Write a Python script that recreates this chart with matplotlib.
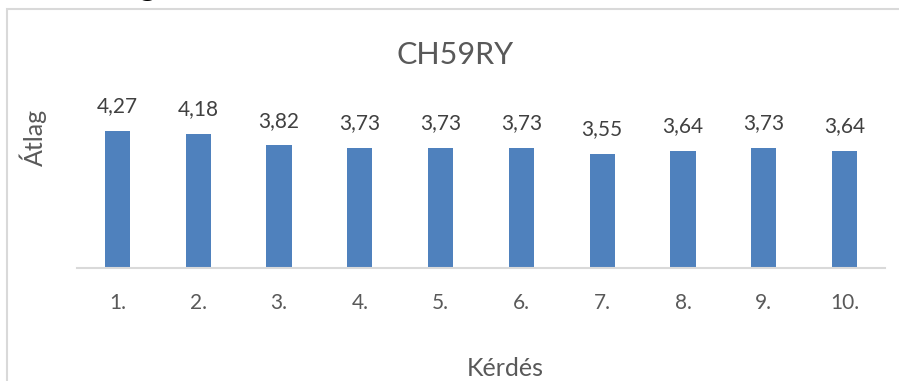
import matplotlib.pyplot as plt
from matplotlib.patches import Rectangle

plt.rcParams['font.family'] = ['Lato', 'DejaVu Sans']

questions = ["1.", "2.", "3.", "4.", "5.", "6.", "7.", "8.", "9.", "10."]
means = [4.27, 4.18, 3.82, 3.73, 3.73, 3.73, 3.55, 3.64, 3.73, 3.64]

W, H = 899, 381
fig = plt.figure(figsize=(W / 100, H / 100), dpi=100)

# chart frame (runs off right and bottom)
fig.patches.append(Rectangle((7 / W, -0.1), 1.2, (H - 9) / H + 0.1,
                             transform=fig.transFigure, fill=False,
                             edgecolor="#d9d9d9", linewidth=1.5))
# descender of the heading above the chart
fig.text(147 / W, 1.0 + 4 / H, "g", ha="center", va="baseline",
         fontsize=24, fontweight="bold", color="black")

left, right = 77 / W, 885 / W
bottom, top = 1 - 268 / H, 1 - 107.5 / H
ax = fig.add_axes([left, bottom, right - left, top - bottom])

x = range(len(questions))
bars = ax.bar(x, means, width=0.31, color="#4f81bd")
ax.set_xlim(-0.5, len(questions) - 0.5)
ax.set_ylim(0, 5)

for b, v in zip(bars, means):
    ax.annotate(f"{v:.2f}".replace(".", ","), (b.get_x() + b.get_width() / 2, v),
                xytext=(0, 13.5), textcoords="offset points", ha="center",
                va="baseline", fontsize=15, color="#404040")

ax.set_xticks(list(x))
ax.set_xticklabels(questions, fontsize=15, color="#595959")
ax.tick_params(axis="x", length=0, pad=18)
ax.set_yticks([])
for s in ["top", "right", "left"]:
    ax.spines[s].set_visible(False)
ax.spines["bottom"].set_color("#d9d9d9")
ax.spines["bottom"].set_linewidth(1.5)

fig.text(455 / W, 1 - 55 / H, "CH59RY", ha="center", va="center",
         fontsize=22, color="#595959")
fig.text(505 / W, 1 - 368 / H, "Kérdés", ha="center", va="center",
         fontsize=18, color="#595959")
fig.text(33 / W, 1 - 137 / H, "Átlag", ha="center", va="center",
         rotation=90, fontsize=18, color="#595959")

fig.savefig("out.png", dpi=100)
